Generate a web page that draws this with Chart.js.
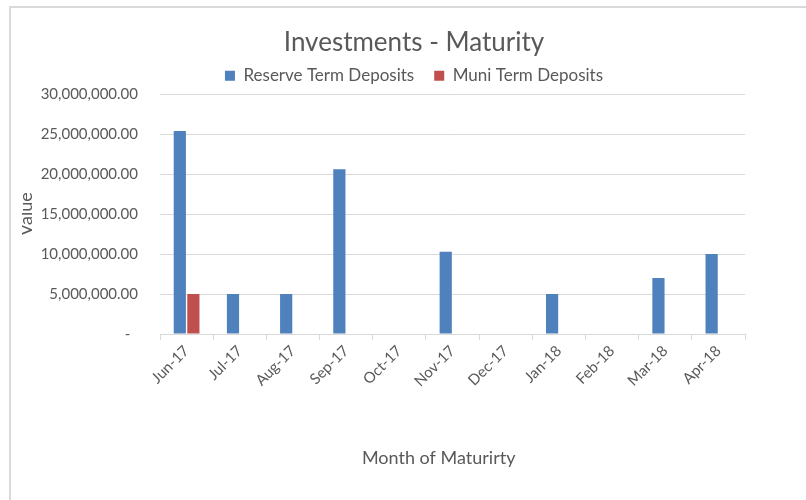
<!DOCTYPE html>
<html>
<head>
<meta charset="utf-8">
<script src="https://cdn.jsdelivr.net/npm/chart.js@4"></script>
<style>
  html, body { margin: 0; padding: 0; background: #fff; }
  #frame { position: absolute; left: 9px; top: 6px; width: 797px; height: 494px;
           border-left: 2px solid #d9d9d9; border-top: 2px solid #d9d9d9; box-sizing: border-box; }
  #wrap { position: absolute; left: 22px; top: 0; width: 784px; height: 500px; }
</style>
</head>
<body>
<div id="frame"></div>
<div id="wrap"><canvas id="maturity"></canvas></div>
<script>
// chart data
const months = ['Jun-17', 'Jul-17', 'Aug-17', 'Sep-17', 'Oct-17', 'Nov-17', 'Dec-17', 'Jan-18', 'Feb-18', 'Mar-18', 'Apr-18'];
const reserveTerm = [25400000, 5000000, 5000000, 20600000, null, 10300000, null, 5000000, null, 7000000, 10000000];
const muniTerm = [5000000, null, null, null, null, null, null, null, null, null, null];
const yTicks = [0, 5000000, 10000000, 15000000, 20000000, 25000000, 30000000];

const grey = '#595959';
const gridGrey = '#d9d9d9';
const font = 'Lato';

const ctx = document.getElementById('maturity').getContext('2d');

new Chart(ctx, {
    type: 'bar',
    data: {
        labels: months,
        datasets: [{
            label: 'Reserve Term Deposits',
            data: reserveTerm,
            backgroundColor: '#4f81bd',
            yAxisID: 'y'
        }, {
            label: 'Muni Term Deposits',
            data: muniTerm,
            backgroundColor: '#c0504d',
            yAxisID: 'y'
        }]
    },
    options: {
        responsive: true,
        maintainAspectRatio: false,
        animation: false,
        barPercentage: 0.9,
        categoryPercentage: 0.51,
        layout: { padding: 0 },
        plugins: {
            title: {
                display: true,
                text: 'Investments - Maturity',
                color: grey,
                font: { family: font, size: 26, weight: 'normal' },
                padding: { top: 27, bottom: -11 }
            },
            legend: {
                display: true,
                labels: {
                    color: grey,
                    font: { family: font, size: 17 },
                    boxWidth: 10,
                    boxHeight: 10,
                    padding: 20
                }
            },
            tooltip: { enabled: false }
        },
        scales: {
            x: {
                grid: {
                    display: true,
                    drawOnChartArea: false,
                    drawTicks: true,
                    tickLength: 6,
                    color: gridGrey
                },
                border: { color: gridGrey },
                ticks: {
                    color: grey,
                    font: { family: font, size: 15 },
                    minRotation: 45,
                    maxRotation: 45,
                    padding: 2
                },
                title: {
                    display: true,
                    text: 'Month of Maturirty      ',
                    color: grey,
                    font: { family: font, size: 18 },
                    padding: { top: 0, bottom: 31 }
                },
                afterFit: function (scale) { scale.height = 166; }
            },
            y: {
                position: 'left',
                min: 0,
                max: 30000000,
                afterBuildTicks: function (scale) {
                    scale.ticks = yTicks.map(v => ({ value: v }));
                },
                grid: { color: gridGrey, drawTicks: false },
                border: { display: false },
                ticks: {
                    color: grey,
                    font: { family: font, size: 15 },
                    padding: 22,
                    callback: function (v) {
                        if (v === 0) return '-  ';
                        return v.toLocaleString('en-US', { minimumFractionDigits: 2, maximumFractionDigits: 2 });
                    }
                },
                title: {
                    display: true,
                    text: 'Value',
                    color: grey,
                    font: { family: font, size: 18 },
                    padding: { top: -7, bottom: 0 }
                },
                afterFit: function (scale) { scale.width = 138; }
            },
            y2: {
                position: 'right',
                display: true,
                grid: { display: false },
                border: { display: false },
                ticks: { display: false },
                afterFit: function (scale) { scale.width = 61; }
            }
        }
    }
});
</script>
</body>
</html>
